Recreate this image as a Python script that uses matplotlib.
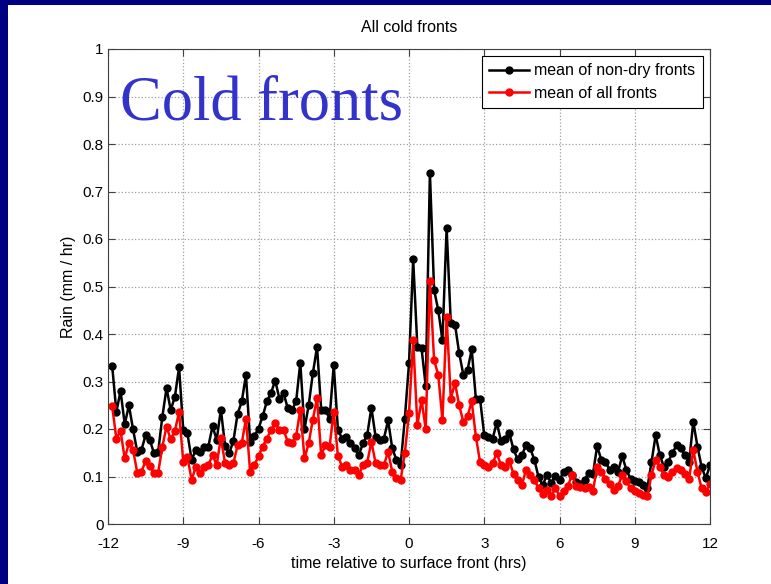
import numpy as np
import matplotlib
matplotlib.use("Agg")
import matplotlib.pyplot as plt
from matplotlib.patches import Rectangle

plt.rcParams['font.family'] = ['Liberation Sans', 'DejaVu Sans']

# 10-minute bins relative to the surface front, -11.83 .. 12 hrs
hours = np.arange(1, 145) / 6.0 - 12

rain_nondry = [
    0.333, 0.236, 0.280, 0.210, 0.250, 0.199, 0.152, 0.156, 0.187, 0.177, 0.149, 0.152,
    0.226, 0.286, 0.240, 0.268, 0.330, 0.198, 0.191, 0.135, 0.156, 0.152, 0.163, 0.163,
    0.206, 0.177, 0.241, 0.165, 0.149, 0.175, 0.232, 0.258, 0.314, 0.173, 0.185, 0.201,
    0.227, 0.258, 0.276, 0.302, 0.264, 0.275, 0.244, 0.240, 0.258, 0.340, 0.200, 0.250,
    0.317, 0.373, 0.240, 0.240, 0.222, 0.335, 0.198, 0.180, 0.184, 0.170, 0.159, 0.145,
    0.170, 0.187, 0.245, 0.184, 0.177, 0.180, 0.218, 0.159, 0.135, 0.124, 0.222, 0.338,
    0.557, 0.373, 0.370, 0.290, 0.740, 0.493, 0.450, 0.387, 0.623, 0.423, 0.420, 0.360,
    0.314, 0.324, 0.368, 0.263, 0.263, 0.187, 0.184, 0.180, 0.213, 0.175, 0.180, 0.191,
    0.157, 0.136, 0.145, 0.166, 0.159, 0.135, 0.098, 0.082, 0.103, 0.086, 0.101, 0.093,
    0.110, 0.114, 0.103, 0.089, 0.085, 0.093, 0.108, 0.105, 0.164, 0.135, 0.131, 0.114,
    0.120, 0.110, 0.143, 0.114, 0.095, 0.090, 0.088, 0.082, 0.075, 0.130, 0.187, 0.145,
    0.120, 0.131, 0.149, 0.166, 0.160, 0.145, 0.131, 0.215, 0.163, 0.120, 0.096, 0.124,
]

rain_all = [
    0.248, 0.180, 0.196, 0.138, 0.170, 0.156, 0.108, 0.110, 0.133, 0.122, 0.108, 0.108,
    0.163, 0.205, 0.178, 0.196, 0.236, 0.131, 0.141, 0.093, 0.120, 0.107, 0.120, 0.124,
    0.145, 0.124, 0.182, 0.128, 0.124, 0.128, 0.166, 0.170, 0.222, 0.110, 0.124, 0.143,
    0.163, 0.180, 0.198, 0.212, 0.198, 0.198, 0.173, 0.170, 0.185, 0.241, 0.138, 0.170,
    0.220, 0.265, 0.145, 0.166, 0.163, 0.236, 0.143, 0.121, 0.124, 0.114, 0.114, 0.103,
    0.124, 0.129, 0.173, 0.129, 0.124, 0.124, 0.152, 0.110, 0.096, 0.093, 0.149, 0.233,
    0.387, 0.208, 0.261, 0.200, 0.512, 0.345, 0.314, 0.219, 0.436, 0.264, 0.297, 0.250,
    0.215, 0.227, 0.258, 0.184, 0.130, 0.124, 0.121, 0.128, 0.149, 0.124, 0.121, 0.133,
    0.105, 0.093, 0.082, 0.114, 0.103, 0.093, 0.075, 0.063, 0.072, 0.059, 0.075, 0.060,
    0.070, 0.080, 0.103, 0.080, 0.077, 0.075, 0.078, 0.070, 0.120, 0.110, 0.095, 0.085,
    0.072, 0.080, 0.103, 0.090, 0.075, 0.070, 0.065, 0.062, 0.058, 0.103, 0.135, 0.120,
    0.103, 0.100, 0.110, 0.117, 0.113, 0.105, 0.095, 0.156, 0.110, 0.075, 0.068, 0.085,
]

x_ticks = [-12, -9, -6, -3, 0, 3, 6, 9, 12]
y_ticks = np.round(np.arange(0, 1.01, 0.1), 1)
y_labels = ['0'] + ['%.1f' % v for v in y_ticks[1:-1]] + ['1']

W, H = 771, 584
fig = plt.figure(figsize=(W / 100, H / 100), dpi=100, facecolor='#000080')
# white slide panel inside the navy border
fig.patches.append(Rectangle((8 / W, 0), 1, 1 - 5 / H, transform=fig.transFigure,
                             facecolor='white', edgecolor='none', zorder=-10))

ax = fig.add_axes([108 / W, 1 - 524 / H, (710 - 108) / W, (524 - 49) / H])
ax.plot(hours, rain_nondry, '-o', color='black', lw=1.8, ms=5,
        label='mean of non-dry fronts')
ax.plot(hours, rain_all, '-o', color='red', lw=1.8, ms=5,
        label='mean of all fronts')

ax.set_xlim(-12, 12)
ax.set_ylim(0, 1)
ax.set_xticks(x_ticks)
ax.set_xticklabels([str(v) for v in x_ticks])
ax.set_yticks(y_ticks)
ax.set_yticklabels(y_labels)
ax.tick_params(direction='in', top=True, right=True, labelsize=11, length=5,
               color='#404040')
ax.tick_params(axis='x', pad=9)
ax.tick_params(axis='y', pad=3)
ax.grid(True, linestyle=':', color='#a0a0a0', linewidth=0.9)
for s in ax.spines.values():
    s.set_color('#404040')
    s.set_linewidth(0.8)

ax.set_title('All cold fronts', fontsize=11.5, pad=12)
ax.set_xlabel('time relative to surface front (hrs)', fontsize=11.5, labelpad=4)
ax.set_ylabel('Rain (mm / hr)', fontsize=11.5, labelpad=5)

leg = ax.legend(loc='upper right', fontsize=11.5, fancybox=False, framealpha=1,
                edgecolor='black', borderaxespad=0.45, handlelength=2.5,
                handletextpad=0.35, borderpad=0.45, labelspacing=0.45)
leg.get_frame().set_linewidth(0.8)

fig.text(120 / W, 1 - 120 / H, 'Cold fronts', family='Liberation Serif',
         fontsize=45, color='#3333cc', va='baseline', ha='left')

fig.savefig('out.png', dpi=100, facecolor=fig.get_facecolor())
